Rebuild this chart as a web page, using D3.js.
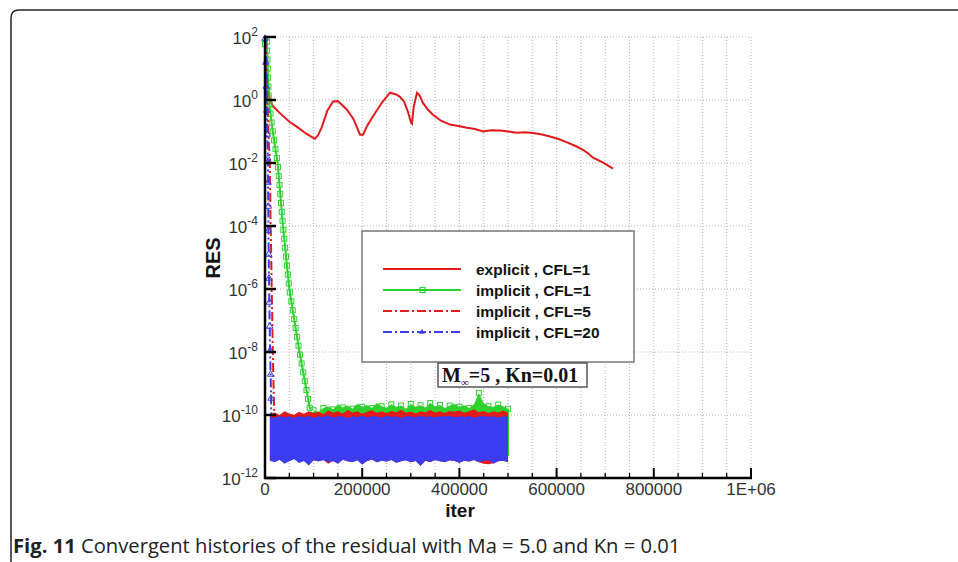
<!DOCTYPE html>
<html>
<head>
<meta charset="utf-8">
<script src="https://cdn.jsdelivr.net/npm/d3@7"></script>
<style>
  body { margin: 0; background: #fff; }
  svg { display: block; }
</style>
</head>
<body>
<svg id="chart" width="958" height="562"></svg>
<script>
// ---- data ----
const xTickValues = [0, 200000, 400000, 600000, 800000, 1000000];
const xTickLabels = ["0", "200000", "400000", "600000", "800000", "1E+06"];
const yTickExponents = [2, 0, -2, -4, -6, -8, -10, -12];

// explicit, CFL=1  [iter, RES]
const explicitCfl1 = [
  [0, 30], [4000, 5], [10000, 1.0], [16500, 0.63], [30000, 0.39], [51000, 0.2],
  [66000, 0.14], [85000, 0.085], [99000, 0.063], [103000, 0.059], [110000, 0.08],
  [117000, 0.14], [128000, 0.45], [140000, 0.9], [150000, 0.92], [168700, 0.49],
  [182000, 0.25], [195500, 0.079], [201700, 0.079], [210000, 0.15], [222000, 0.3],
  [240000, 0.8], [257000, 1.7], [270000, 1.5], [277800, 1.26], [286000, 0.9],
  [294000, 0.43], [300000, 0.2], [302500, 0.18], [306000, 0.6], [312700, 1.7],
  [318000, 1.4], [325000, 0.81], [335000, 0.5], [345700, 0.34], [362000, 0.22],
  [380700, 0.166], [398000, 0.15], [415600, 0.132], [432000, 0.12], [448600, 0.1],
  [466000, 0.11], [483500, 0.107], [500000, 0.1], [518500, 0.091], [535000, 0.094],
  [551400, 0.089], [570000, 0.08], [586400, 0.069], [604000, 0.058], [621400, 0.045],
  [640000, 0.034], [654300, 0.026], [665000, 0.02], [674900, 0.0148], [695000, 0.0105],
  [716000, 0.0066]
];

// implicit descents  [iter, RES]
const implicitCfl1 = [
  [0, 60], [2000, 90], [4000, 70], [8000, 1.0], [16000, 0.1], [26000, 1e-2],
  [37000, 1e-4], [50000, 1e-6], [71000, 1e-8], [92600, 1.5e-10]
];
const implicitCfl5 = [
  [0, 80], [2000, 40], [4000, 5], [7000, 0.1], [8500, 3e-2], [10000, 1e-2],
  [11500, 1e-4], [12500, 2e-5], [13800, 1e-6], [15000, 1e-7], [16000, 1e-8],
  [17500, 1e-9], [19000, 1.2e-10]
];
const implicitCfl20 = [
  [0, 90], [1000, 60], [2000, 10], [3000, 2], [4000, 0.3], [6000, 1e-2],
  [7000, 1e-4], [8500, 1e-6], [9500, 1e-7], [10500, 1e-8], [12000, 1e-9], [13000, 1e-10]
];

// residual noise floor, envelopes in log10(RES) every 10000 iterations (thousands)
const bandIterK = [10, 20, 30, 40, 50, 60, 70, 80, 90, 100, 110, 120, 130, 140, 150,
  160, 170, 180, 190, 200, 210, 220, 230, 240, 250, 260, 270, 280, 290, 300, 310, 320,
  330, 340, 350, 360, 370, 380, 390, 400, 410, 420, 430, 440, 450, 460, 470, 480, 490, 500];

const blueTop = [-10.05, -10.1, -10.02, -10.08, -10.04, -10.1, -10.03, -10.07, -10.02, -10.09,
  -10.04, -10.06, -10.01, -10.08, -10.05, -10.03, -10.1, -10.04, -10.06, -10.02,
  -10.08, -10.03, -10.05, -10.09, -10.02, -10.06, -10.04, -10.1, -10.03, -10.05,
  -10.07, -10.02, -10.06, -10.04, -10.08, -10.03, -10.05, -10.02, -10.07, -10.04,
  -10.06, -10.03, -10.09, -10.05, -10.02, -10.06, -10.04, -10.08, -10.03, -10.06];
const blueBottom = [-11.45, -11.5, -11.42, -11.55, -11.47, -11.4, -11.52, -11.46, -11.6, -11.44,
  -11.48, -11.43, -11.5, -11.46, -11.55, -11.42, -11.47, -11.5, -11.44, -11.58,
  -11.46, -11.41, -11.5, -11.45, -11.48, -11.43, -11.52, -11.47, -11.44, -11.5,
  -11.46, -11.62, -11.45, -11.49, -11.43, -11.47, -11.5, -11.44, -11.46, -11.52,
  -11.45, -11.48, -11.43, -11.5, -11.46, -11.44, -11.55, -11.47, -11.45, -11.5];
const redTop = [-9.98, -9.92, -10.0, -9.88, -9.95, -9.99, -9.9, -9.96, -9.88, -9.94,
  -9.9, -9.97, -9.86, -9.93, -9.88, -9.95, -9.84, -9.92, -9.88, -9.96,
  -9.9, -9.85, -9.93, -9.88, -9.94, -9.87, -9.91, -9.83, -9.93, -9.89,
  -9.95, -9.88, -9.91, -9.84, -9.92, -9.88, -9.94, -9.87, -9.9, -9.86,
  -9.93, -9.88, -9.82, -9.91, -9.87, -9.94, -9.88, -9.92, -9.86, -9.93];
const redBottom = [-11.44, -11.48, -11.42, -11.5, -11.46, -11.4, -11.5, -11.45, -11.56, -11.44,
  -11.47, -11.43, -11.55, -11.46, -11.53, -11.42, -11.47, -11.49, -11.44, -11.55,
  -11.46, -11.41, -11.5, -11.45, -11.48, -11.43, -11.5, -11.47, -11.44, -11.5,
  -11.46, -11.6, -11.45, -11.5, -11.43, -11.47, -11.5, -11.44, -11.46, -11.5,
  -11.45, -11.48, -11.43, -11.5, -11.55, -11.56, -11.53, -11.47, -11.45, -11.5];
// green floor starts when the CFL=1 implicit line reaches it (100k .. 500k)
const greenTop = [-9.85, -9.9, -9.78, -9.72, -9.82, -9.66, -9.76, -9.7, -9.8, -9.64,
  -9.74, -9.68, -9.78, -9.62, -9.72, -9.77, -9.66, -9.74, -9.7, -9.8,
  -9.65, -9.74, -9.69, -9.76, -9.62, -9.72, -9.68, -9.78, -9.7, -9.64,
  -9.74, -9.69, -9.78, -9.66, -9.3, -9.63, -9.72, -9.74, -9.67, -9.72, -9.8];
const greenBottom = -11.3;

const legendLabels = ["explicit , CFL=1", "implicit , CFL=1", "implicit , CFL=5", "implicit , CFL=20"];

// ---- layout ----
const RED = "#e31a1c", GREEN = "#2ed12e", BLUE = "#3c3cf2";
const plot = {left: 265, right: 751, top: 37, bottom: 478};
const svg = d3.select("#chart");

const x = d3.scaleLinear().domain([0, 1000000]).range([plot.left, plot.right]);
const y = d3.scaleLog().domain([1e-12, 1e2]).range([plot.bottom, plot.top]);

// frame around the figure
svg.append("path")
    .attr("d", "M11,562 V18 Q11,10 19,10 H958")
    .attr("fill", "none")
    .attr("stroke", "#222")
    .attr("stroke-width", 1.5);

// grid
const grid = svg.append("g").attr("stroke", "#b0b0b0").attr("stroke-dasharray", "1,2").attr("stroke-width", 1);
grid.selectAll("line.v")
    .data(d3.range(50000, 1000001, 50000))
    .enter().append("line")
    .attr("x1", d => x(d)).attr("x2", d => x(d))
    .attr("y1", plot.top).attr("y2", plot.bottom);
grid.selectAll("line.h")
    .data(yTickExponents)
    .enter().append("line")
    .attr("x1", plot.left).attr("x2", plot.right)
    .attr("y1", d => y(Math.pow(10, d))).attr("y2", d => y(Math.pow(10, d)));

const line = d3.line().x(d => x(d[0])).y(d => y(d[1]));
const band = d3.area().x(d => x(d[0])).y0(d => y(d[2])).y1(d => y(d[1]));

// explicit
svg.append("path")
    .datum(explicitCfl1)
    .attr("d", line)
    .attr("fill", "none")
    .attr("stroke", RED)
    .attr("stroke-width", 2);

// noise floors
const greenBand = greenTop.map((v, i) => [bandIterK[i + 9] * 1000, Math.pow(10, v), Math.pow(10, greenBottom)]);
greenBand.push([502000, Math.pow(10, -9.8), Math.pow(10, greenBottom)]);
svg.append("path").datum(greenBand).attr("d", band).attr("fill", GREEN);
svg.append("g").selectAll("rect")
    .data(greenBand.filter((d, i) => i % 2 === 0))
    .enter().append("rect")
    .attr("x", d => x(d[0]) - 2.5).attr("y", d => y(d[1]) - 2.5)
    .attr("width", 5).attr("height", 5)
    .attr("fill", "none").attr("stroke", GREEN).attr("stroke-width", 1);

const redBand = redTop.map((v, i) => [bandIterK[i] * 1000, Math.pow(10, v), Math.pow(10, redBottom[i])]);
svg.append("path").datum(redBand).attr("d", band).attr("fill", RED);

const blueBand = blueTop.map((v, i) => [bandIterK[i] * 1000, Math.pow(10, v), Math.pow(10, blueBottom[i])]);
svg.append("path").datum(blueBand).attr("d", band).attr("fill", BLUE);

// implicit CFL=1 with square markers along it
const greenPath = svg.append("path")
    .datum(implicitCfl1)
    .attr("d", line)
    .attr("fill", "none")
    .attr("stroke", GREEN)
    .attr("stroke-width", 2);
function markAlong(pathSel, step, draw) {
    const node = pathSel.node();
    const len = node.getTotalLength();
    const pts = [];
    for (let l = 0; l <= len; l += step) pts.push(node.getPointAtLength(l));
    draw(svg.append("g").selectAll("*").data(pts).enter());
}
markAlong(greenPath, 9, sel => sel.append("rect")
    .attr("x", p => p.x - 2.5).attr("y", p => p.y - 2.5)
    .attr("width", 5).attr("height", 5)
    .attr("fill", "none").attr("stroke", GREEN).attr("stroke-width", 1));

// implicit CFL=5, CFL=20 (dash-dot)
svg.append("path")
    .datum(implicitCfl5)
    .attr("d", line)
    .attr("fill", "none")
    .attr("stroke", RED)
    .attr("stroke-width", 2)
    .attr("stroke-dasharray", "9,3,2,3");
const bluePath = svg.append("path")
    .datum(implicitCfl20)
    .attr("d", line)
    .attr("fill", "none")
    .attr("stroke", BLUE)
    .attr("stroke-width", 2)
    .attr("stroke-dasharray", "9,3,2,3");
markAlong(bluePath, 24, sel => sel.append("path")
    .attr("d", d3.symbol(d3.symbolTriangle, 18))
    .attr("transform", p => "translate(" + p.x + "," + p.y + ")")
    .attr("fill", "none").attr("stroke", BLUE).attr("stroke-width", 1));

// axes
const axes = svg.append("g").attr("stroke", "#000");
axes.append("line")
    .attr("x1", plot.left).attr("x2", plot.left)
    .attr("y1", plot.top - 1).attr("y2", plot.bottom + 1)
    .attr("stroke-width", 2.5);
axes.append("line")
    .attr("x1", plot.left - 1).attr("x2", plot.right + 1)
    .attr("y1", plot.bottom).attr("y2", plot.bottom)
    .attr("stroke-width", 2.5);
axes.selectAll("line.yt")
    .data(yTickExponents)
    .enter().append("line")
    .attr("x1", plot.left).attr("x2", plot.left + 11)
    .attr("y1", d => y(Math.pow(10, d))).attr("y2", d => y(Math.pow(10, d)))
    .attr("stroke-width", 2.5);
axes.selectAll("line.xt")
    .data(d3.range(50000, 1000001, 50000))
    .enter().append("line")
    .attr("x1", d => x(d)).attr("x2", d => x(d))
    .attr("y1", plot.bottom)
    .attr("y2", d => plot.bottom - (d % 200000 === 0 ? 10 : 5))
    .attr("stroke-width", d => d % 200000 === 0 ? 2 : 1.3);

// tick labels
const tickFont = "'Liberation Sans', Arial, sans-serif";
svg.append("g").selectAll("text")
    .data(xTickValues)
    .enter().append("text")
    .attr("x", d => x(d))
    .attr("y", 495)
    .attr("text-anchor", "middle")
    .attr("font-family", tickFont)
    .attr("font-size", 17)
    .attr("fill", "#333")
    .text((d, i) => xTickLabels[i]);

const yLab = svg.append("g").selectAll("text")
    .data(yTickExponents)
    .enter().append("text")
    .attr("x", 258)
    .attr("y", d => y(Math.pow(10, d)) + 7)
    .attr("text-anchor", "end")
    .attr("font-family", tickFont)
    .attr("font-size", 17)
    .attr("fill", "#333");
yLab.append("tspan").text("10");
yLab.append("tspan")
    .attr("dy", -8)
    .attr("font-size", 12)
    .text(d => d < 0 ? "-" + Math.abs(d) : d);

// axis titles
svg.append("text")
    .attr("transform", "translate(220,258) rotate(-90)")
    .attr("text-anchor", "middle")
    .attr("font-family", tickFont)
    .attr("font-weight", "bold")
    .attr("font-size", 20)
    .attr("fill", "#111")
    .text("RES");
svg.append("text")
    .attr("x", 460)
    .attr("y", 517)
    .attr("text-anchor", "middle")
    .attr("font-family", tickFont)
    .attr("font-weight", "bold")
    .attr("font-size", 19)
    .attr("fill", "#111")
    .text("iter");

// legend
const legend = svg.append("g").attr("transform", "translate(362,231)");
legend.append("rect")
    .attr("width", 272).attr("height", 131)
    .attr("fill", "#fff")
    .attr("stroke", "#777").attr("stroke-width", 1.5);
const styles = [
    {color: RED, dash: null, marker: null},
    {color: GREEN, dash: null, marker: "square"},
    {color: RED, dash: "9,3,2,3", marker: null},
    {color: BLUE, dash: "9,3,2,3", marker: "triangle"}
];
const entry = legend.selectAll("g.entry")
    .data(legendLabels)
    .enter().append("g")
    .attr("transform", (d, i) => "translate(0," + (38 + i * 21) + ")");
entry.append("line")
    .attr("x1", 21).attr("x2", 99)
    .attr("stroke", (d, i) => styles[i].color)
    .attr("stroke-width", 2)
    .attr("stroke-dasharray", (d, i) => styles[i].dash);
entry.filter((d, i) => styles[i].marker === "square").append("rect")
    .attr("x", 58).attr("y", -2.5).attr("width", 5).attr("height", 5)
    .attr("fill", "none").attr("stroke", GREEN).attr("stroke-width", 1.2);
entry.filter((d, i) => styles[i].marker === "triangle").append("path")
    .attr("d", d3.symbol(d3.symbolTriangle, 14))
    .attr("transform", "translate(60,0)")
    .attr("fill", BLUE);
entry.append("text")
    .attr("x", 114)
    .attr("y", 6)
    .attr("font-family", tickFont)
    .attr("font-weight", "bold")
    .attr("font-size", 15.5)
    .attr("fill", "#111")
    .text(d => d);

// flow condition box
const note = svg.append("g");
note.append("rect")
    .attr("x", 438).attr("y", 363).attr("width", 149).attr("height", 24)
    .attr("fill", "#fff").attr("stroke", "#555").attr("stroke-width", 1.5);
const noteText = note.append("text")
    .attr("x", 442).attr("y", 382)
    .attr("font-family", "'Liberation Serif', 'Times New Roman', serif")
    .attr("font-weight", "bold")
    .attr("font-size", 20)
    .attr("fill", "#111");
noteText.append("tspan").text("M");
noteText.append("tspan").attr("dy", 4).attr("font-size", 11).attr("font-weight", "normal").text("\u221E");
noteText.append("tspan").attr("dy", -4).text("=5 , Kn=0.01");

// caption
const cap = svg.append("text")
    .attr("x", 13).attr("y", 553)
    .attr("font-family", "'Open Sans', sans-serif")
    .attr("font-size", 20.2)
    .attr("fill", "#222");
cap.append("tspan").attr("font-weight", "bold").text("Fig. 11");
cap.append("tspan").text(" Convergent histories of the residual with Ma = 5.0 and Kn = 0.01");
</script>
</body>
</html>
